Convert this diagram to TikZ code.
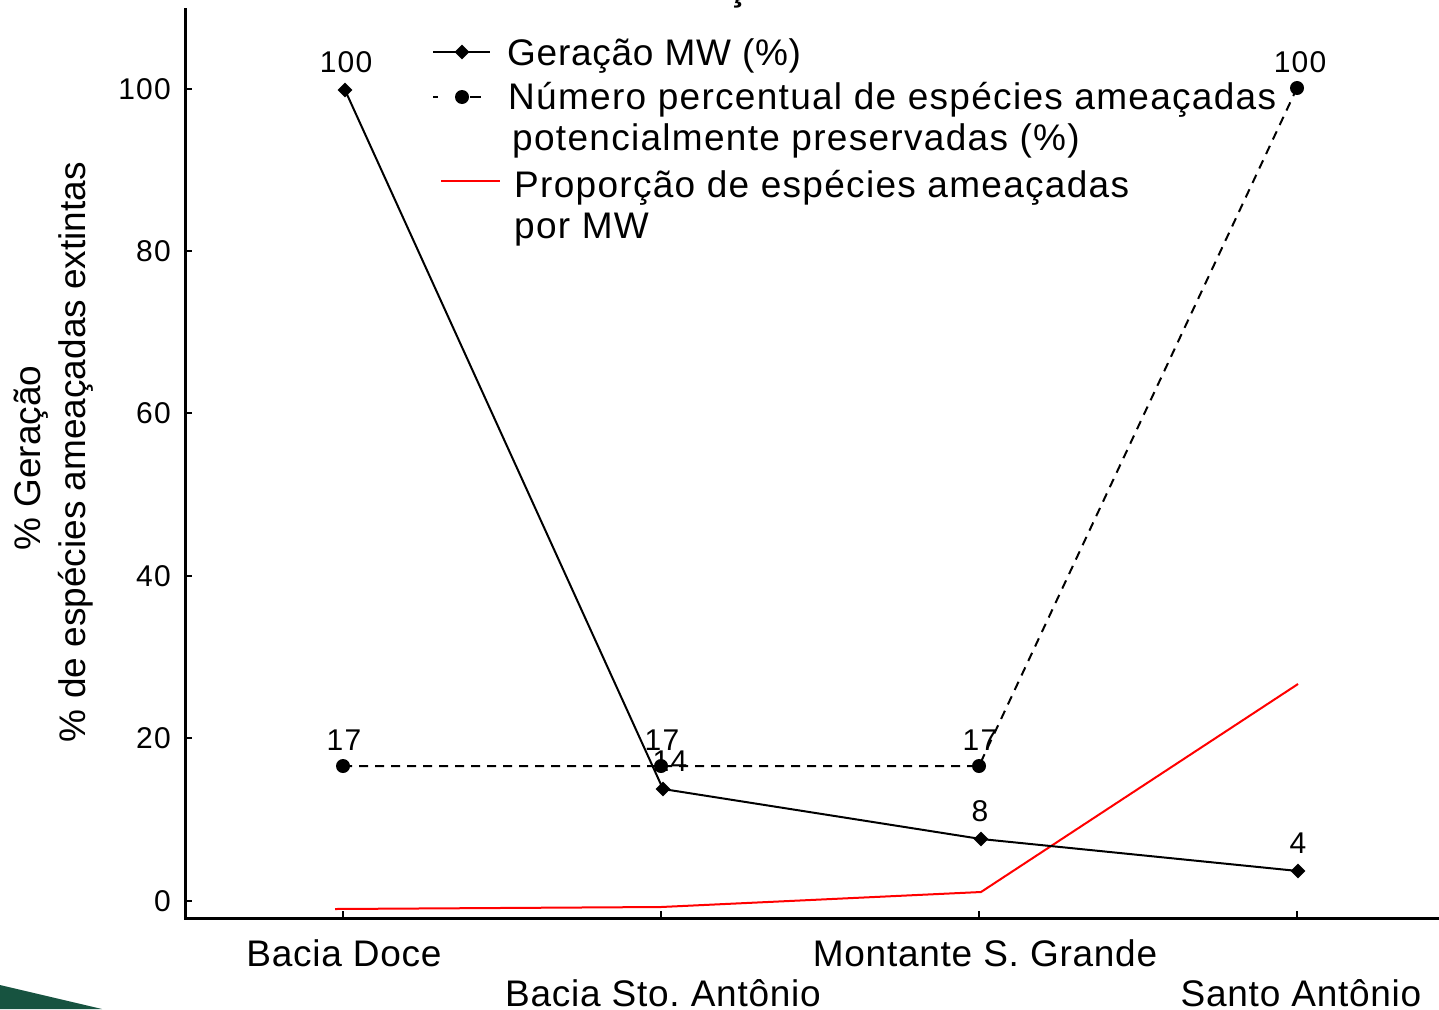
\documentclass[tikz,border=0pt]{standalone}
\usepackage{fontspec}
\setmainfont{Liberation Sans}
\usetikzlibrary{shapes.geometric}
\frenchspacing
\begin{document}
\begin{tikzpicture}[x=1pt,y=-1pt,
  big/.style={font=\fontsize{37}{40}\selectfont, inner sep=0pt},
  wide/.style={font=\fontsize{37}{40}\selectfont\addfontfeature{LetterSpace=3.5}, inner sep=0pt},
  cat/.style={font=\fontsize{37}{40}\selectfont\addfontfeature{LetterSpace=2}, inner sep=0pt},
  num/.style={font=\fontsize{30}{32}\selectfont\addfontfeature{LetterSpace=4}, inner sep=0pt},
  axisline/.style={line width=3pt},
  tickline/.style={line width=2pt},
  gen/.style={line width=2pt, black},
  pres/.style={line width=2pt, black, dash pattern=on 9pt off 7pt},
  prop/.style={line width=2pt, red},
  dmark/.style={fill=black, draw=none, shape=diamond, inner sep=0pt, minimum width=15pt, minimum height=15pt},
]
\useasboundingbox (0,0) rectangle (1439,1009);
% green wedge
\fill[fill={rgb,255:red,23;green,83;blue,64}] (0,985) -- (102,1009) -- (0,1009) -- cycle;
% title remnant (cut off)
\node[font=\fontsize{37}{40}\selectfont\bfseries, anchor=base, inner sep=0pt] (ttl) at (738,0) {ç};
% axes
\coordinate (O) at (185,918);
\coordinate (ytop) at (185,8);
\coordinate (xend) at (1439,918);
\draw[axisline] (ytop) -- (O) -- (xend);
% y ticks and labels
\foreach \v/\yy in {0/901,20/738,40/576,60/413,80/251,100/89}{
  \draw[tickline] (185,\yy) -- (192,\yy);
  \node[num, anchor=east] (yt\v) at (171,\yy) {\v};
}
% x ticks
\foreach \xx in {343,661,979,1297}{
  \draw[tickline] (\xx,918) -- (\xx,911);
}
% category labels
\node[cat] (c1) at (344,953) {Bacia Doce};
\node[cat] (c2) at (663,993) {Bacia Sto. Antônio};
\node[cat] (c3) at (985,953) {Montante S. Grande};
\node[cat] (c4) at (1301,993) {Santo Antônio};
% y axis title
\node[big, rotate=90] (yl1) at (31,458) {\% Geração};
\node[big, rotate=90] (yl2) at (76,452) {\% de espécies ameaçadas extintas};
% data points
\coordinate (g1) at (345,90);
\coordinate (g2) at (663,789);
\coordinate (g3) at (981,839);
\coordinate (g4) at (1298,871);
\coordinate (p1) at (343,766);
\coordinate (p2) at (661,766);
\coordinate (p3) at (979,766);
\coordinate (p4) at (1297,88);
\coordinate (r1) at (335,909);
\coordinate (r2) at (661,907);
\coordinate (r3) at (981,892);
\coordinate (r4) at (1298,684);
% red line
\draw[prop] (r1) -- (r2) -- (r3) -- (r4);
% dashed series
\draw[pres] (p1) -- (p2) -- (p3) -- (p4);
\foreach \p in {p1,p2,p3,p4}{ \fill (\p) circle (7pt); }
% generation series
\draw[gen] (g1) -- (g2) -- (g3) -- (g4);
\foreach \p in {g1,g2,g3,g4}{ \node[dmark] (m\p) at (\p) {}; }
% value labels
\node[num] (lg1) at (346,62) {100};
\node[num] (lg2) at (670,761) {14};
\node[num] (lg3) at (980,811) {8};
\node[num] (lg4) at (1298,843) {4};
\node[num] (lp1) at (344,740) {17};
\node[num] (lp2) at (662,740) {17};
\node[num] (lp3) at (980,740) {17};
\node[num] (lp4) at (1300,62) {100};
% legend
\coordinate (la1) at (433,52); \coordinate (la2) at (490,52);
\draw[gen] (la1) -- (la2);
\node[dmark] (lam) at (462,52) {};
\node[cat, anchor=base west] (lt1) at (507,65) {Geração MW (\%)};
\coordinate (lb1) at (433,97); \coordinate (lb2) at (438,97);
\coordinate (lb3) at (470,97); \coordinate (lb4) at (481,97);
\draw[gen] (lb1) -- (lb2);
\draw[gen] (lb3) -- (lb4);
\fill (462,97) circle (7pt);
\node[wide, anchor=base west] (lt2) at (508,109) {Número percentual de espécies ameaçadas};
\node[wide, anchor=base west] (lt3) at (512,150) {potencialmente preservadas (\%)};
\coordinate (lc1) at (441,181); \coordinate (lc2) at (500,181);
\draw[prop] (lc1) -- (lc2);
\node[wide, anchor=base west] (lt4) at (514,197) {Proporção de espécies ameaçadas};
\node[wide, anchor=base west] (lt5) at (514,238) {por MW};
\end{tikzpicture}
\end{document}
